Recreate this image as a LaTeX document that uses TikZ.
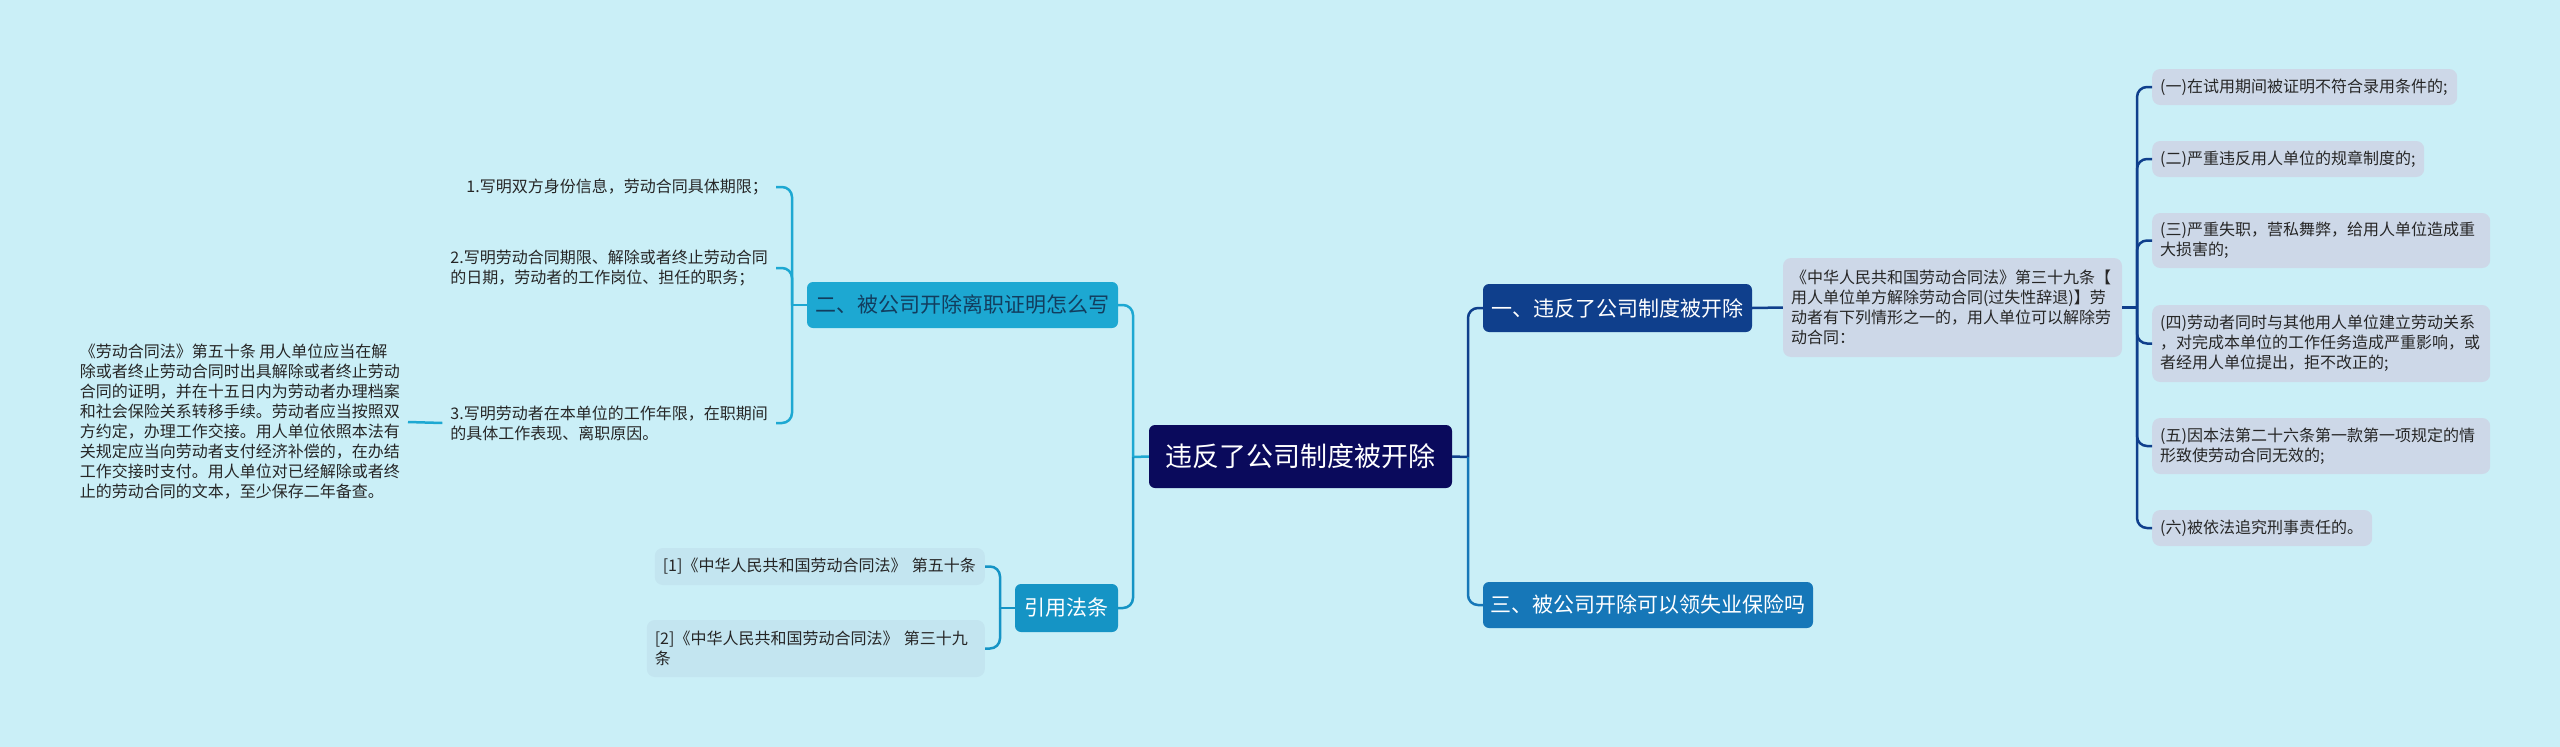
\documentclass[tikz,border=0pt]{standalone}
\usepackage{fontspec}
\setmainfont{Noto Sans CJK SC}
\definecolor{bg}{HTML}{CAEFF7}
\definecolor{rootc}{HTML}{0A0A5C}
\definecolor{onec}{HTML}{0F3F8C}
\definecolor{threec}{HTML}{1677B8}
\definecolor{twoc}{HTML}{1DA8D2}
\definecolor{refc}{HTML}{1594C5}
\definecolor{leafc}{HTML}{CDD8E8}
\definecolor{refleaf}{HTML}{C3E5F0}
\definecolor{txt}{HTML}{262626}
\definecolor{twotxt}{HTML}{123D5E}
\tikzset{
  conn/.style={line width=2.5pt, rounded corners=10pt},
  mainbox/.style={rounded corners=6pt, inner sep=0pt, align=center,
    font=\fontsize{21}{26}\selectfont, text=white},
  leafbox/.style={fill=leafc, rounded corners=8pt, inner xsep=8pt, inner ysep=0pt,
    align=left, font=\fontsize{16}{20}\selectfont, text=txt},
  refbox/.style={fill=refleaf, rounded corners=8pt, inner xsep=8pt, inner ysep=0pt,
    align=left, font=\fontsize{16}{20}\selectfont, text=txt},
  plaintext/.style={inner xsep=8pt, inner ysep=0pt, align=left,
    font=\fontsize{16}{20}\selectfont, text=txt},
}
\begin{document}
\begin{tikzpicture}[x=1pt, y=-1pt]
\fill[bg] (0,0) rectangle (2560,747);
\useasboundingbox (0,0) rectangle (2560,747);

% main nodes
\node[mainbox, fill=rootc, minimum width=303pt, minimum height=63pt,
  font=\fontsize{27}{32}\selectfont] (root) at (1300.5,456.5) {违反了公司制度被开除};
\node[mainbox, fill=onec, minimum width=269pt, minimum height=48pt] (n1) at (1617.5,308) {一、违反了公司制度被开除};
\node[mainbox, fill=threec, minimum width=330pt, minimum height=46pt] (n3) at (1648,605) {三、被公司开除可以领失业保险吗};
\node[mainbox, fill=twoc, text=twotxt, minimum width=311pt, minimum height=46pt] (n2) at (962.5,305) {二、被公司开除离职证明怎么写};
\node[mainbox, fill=refc, minimum width=103pt, minimum height=48pt] (ref) at (1066.5,608) {引用法条};

% right branch
\node[leafbox, text width=323pt, minimum height=99pt] (info) at (1952.5,307.5)
  {《中华人民共和国劳动合同法》第三十九条【\\用人单位单方解除劳动合同(过失性辞退)】劳\\动者有下列情形之一的，用人单位可以解除劳\\动合同：};
\node[leafbox, anchor=west, text width=289pt, minimum height=36pt] (a1) at (2152,87) {(一)在试用期间被证明不符合录用条件的;};
\node[leafbox, anchor=west, text width=256pt, minimum height=36pt] (a2) at (2152,159) {(二)严重违反用人单位的规章制度的;};
\node[leafbox, anchor=west, text width=322pt, minimum height=55pt] (a3) at (2152,240.5) {(三)严重失职，营私舞弊，给用人单位造成重\\大损害的;};
\node[leafbox, anchor=west, text width=322pt, minimum height=77pt] (a4) at (2152,343.5) {(四)劳动者同时与其他用人单位建立劳动关系\\，对完成本单位的工作任务造成严重影响，或\\者经用人单位提出，拒不改正的;};
\node[leafbox, anchor=west, text width=322pt, minimum height=56pt] (a5) at (2152,446) {(五)因本法第二十六条第一款第一项规定的情\\形致使劳动合同无效的;};
\node[leafbox, anchor=west, text width=204pt, minimum height=36pt] (a6) at (2152,528) {(六)被依法追究刑事责任的。};

% left branch
\node[plaintext, anchor=east] (i1) at (776,187) {1.写明双方身份信息，劳动合同具体期限；};
\node[plaintext, anchor=east] (i2) at (776,268) {2.写明劳动合同期限、解除或者终止劳动合同\\的日期，劳动者的工作岗位、担任的职务；};
\node[plaintext, anchor=east] (i3) at (776,423) {3.写明劳动者在本单位的工作年限，在职期间\\的具体工作表现、离职原因。};
\node[plaintext, anchor=east] (para) at (408,422) {《劳动合同法》第五十条 用人单位应当在解\\除或者终止劳动合同时出具解除或者终止劳动\\合同的证明，并在十五日内为劳动者办理档案\\和社会保险关系转移手续。劳动者应当按照双\\方约定，办理工作交接。用人单位依照本法有\\关规定应当向劳动者支付经济补偿的，在办结\\工作交接时支付。用人单位对已经解除或者终\\止的劳动合同的文本，至少保存二年备查。};

% references
\node[refbox, anchor=east, text width=314pt, minimum height=37pt] (r1) at (985,566.5) {[1]《中华人民共和国劳动合同法》 第五十条};
\node[refbox, anchor=east, text width=322pt, minimum height=57pt] (r2) at (985,648.5) {[2]《中华人民共和国劳动合同法》 第三十九\\条};

% junctions
\coordinate (jl) at (1133,457);
\coordinate (jr) at (1468,457);
\coordinate (jb) at (2137,307.5);
\coordinate (j2) at (792,305);
\coordinate (j3) at (1000,608);

% connectors
\draw[conn, twoc] (root.west) -- (jl);
\draw[conn, twoc] (jl) |- (n2.east);
\draw[conn, refc] (jl) |- (ref.east);
\draw[conn, onec] (root.east) -- (jr);
\draw[conn, onec] (jr) |- (n1.west);
\draw[conn, threec] (jr) |- (n3.west);

\draw[conn, onec] (n1.east) -- (info.west);
\draw[conn, onec] (info.east) -- (jb);
\foreach \k in {a1,a2,a3,a4,a5,a6} { \draw[conn, onec] (jb) |- (\k.west); }

\draw[conn, twoc] (n2.west) -- (j2);
\foreach \k in {i1,i2,i3} { \draw[conn, twoc] (j2) |- (\k.east); }
\draw[conn, twoc] (i3.west) -- (para.east);

\draw[conn, refc] (ref.west) -- (j3);
\draw[conn, refc] (j3) |- (r1.east);
\draw[conn, refc] (j3) |- (r2.east);
\end{tikzpicture}
\end{document}
